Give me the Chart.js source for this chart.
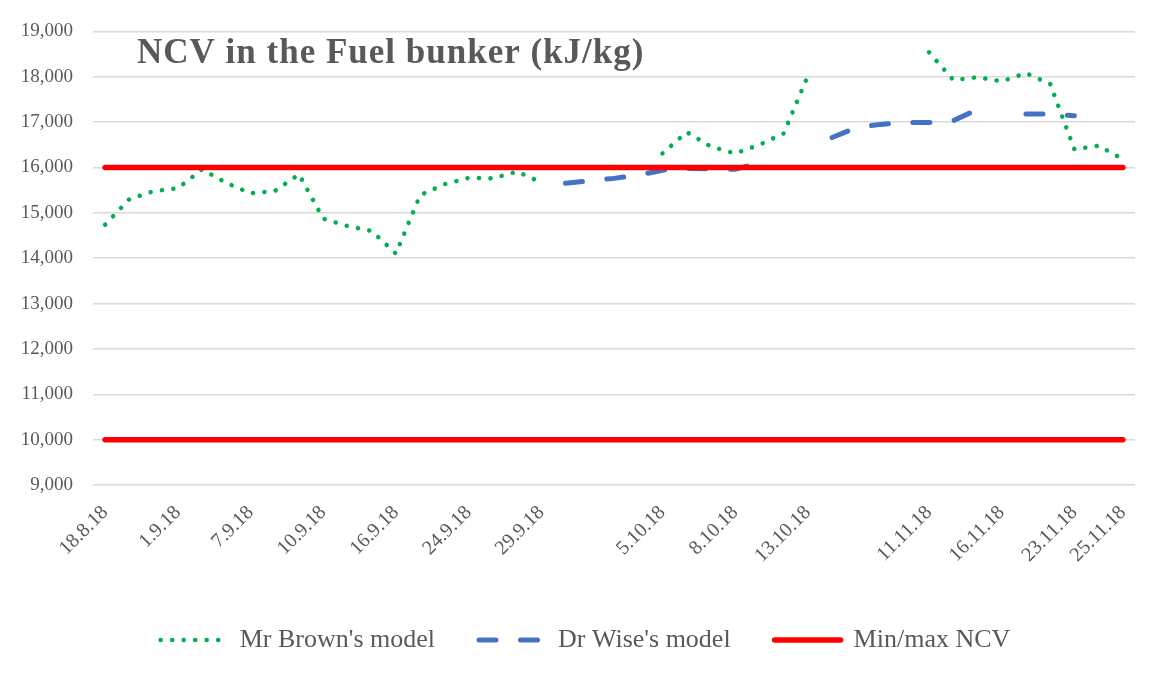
<!DOCTYPE html>
<html>
<head>
<meta charset="utf-8">
<title>NCV in the Fuel bunker</title>
<script src="https://cdn.jsdelivr.net/npm/chart.js@4"></script>
<style>
  html, body { margin: 0; padding: 0; background: #fff; }
  #wrap { position: relative; width: 1153px; height: 674px; }
</style>
</head>
<body>
<div id="wrap"><canvas id="ncvChart" width="1153" height="674"></canvas></div>
<script>
// ─── NCV chart: Mr Brown vs Dr Wise, with min/max limits ───────────────────
// One slot per measurement; only some slots carry a printed date.
const xLabels = [
  '18.8.18','','','1.9.18','','','7.9.18','','','10.9.18','','','16.9.18','','',
  '24.9.18','','','29.9.18','','','','','5.10.18','','','8.10.18','','','13.10.18',
  '','','','','11.11.18','','','16.11.18','','','23.11.18','','25.11.18'
];

// Mr Brown's model (kJ/kg), gaps where there is no reading
const brownNcv = [
  14740,15300,15480,15540,15960,15660,15430,15480,15850,14870,14710,14600,14100,
  15390,15630,15770,15760,15910,15670,null,null,null,null,16310,16780,16460,16310,
  16500,16750,18020,null,null,null,null,18540,17930,17990,17900,18080,17840,16400,
  16480,16180
];

// Dr Wise's model (kJ/kg)
const wiseNcv = [
  null,null,null,null,null,null,null,null,null,null,null,null,null,null,null,null,
  null,null,null,15650,15710,15760,15830,15940,15980,15970,15960,16100,null,null,
  16660,16880,16950,16990,16990,17030,17280,null,17180,17180,17140,null,null
];

// Min / max NCV limits
const ncvLimits = [16000, 10000];

const TITLE = 'NCV in the Fuel bunker (kJ/kg)';
const GREY = '#595959';
const SERIF = '"Liberation Serif", "DejaVu Serif", serif';

// title sits inside the plot area, top-left, like the original
const insideTitle = {
  id: 'insideTitle',
  afterDraw(chart) {
    const { ctx, chartArea } = chart;
    ctx.save();
    ctx.font = 'bold 35px ' + SERIF;
    ctx.letterSpacing = '1px';
    ctx.fillStyle = GREY;
    ctx.textBaseline = 'alphabetic';
    ctx.fillText(TITLE, chartArea.left + 44, chartArea.top + 32);
    ctx.restore();
  }
};

const limitSets = ncvLimits.map((v, k) => ({
  label: 'Min/max NCV',
  data: xLabels.map(() => v),
  borderColor: '#FF0000',
  backgroundColor: '#FF0000',
  borderWidth: 5.5,
  borderCapStyle: 'round',
  pointRadius: 0,
  order: 1,
  inLegend: k === 0
}));

new Chart(document.getElementById('ncvChart'), {
  type: 'line',
  data: {
    labels: xLabels,
    datasets: [
      {
        label: "Mr Brown's model",
        data: brownNcv,
        borderColor: '#00B050',
        backgroundColor: '#00B050',
        borderWidth: 4.5,
        borderDash: [0.1, 11.4],
        borderCapStyle: 'round',
        pointRadius: 0,
        spanGaps: false,
        tension: 0,
        order: 3,
        inLegend: true
      },
      {
        label: "Dr Wise's model",
        data: wiseNcv,
        borderColor: '#4472C4',
        backgroundColor: '#4472C4',
        borderWidth: 5,
        borderDash: [17, 24.5],
        borderCapStyle: 'round',
        pointRadius: 0,
        spanGaps: false,
        tension: 0,
        order: 2,
        inLegend: true
      },
      ...limitSets
    ]
  },
  options: {
    responsive: false,
    animation: false,
    devicePixelRatio: 1,
    layout: { padding: { top: 28, right: 0, left: 18, bottom: 11 } },
    plugins: {
      tooltip: { enabled: false },
      legend: {
        position: 'bottom',
        labels: {
          usePointStyle: true,
          pointStyleWidth: 66,
          padding: 44,
          color: GREY,
          font: { family: SERIF, size: 26 },
          sort: (a, b) => a.datasetIndex - b.datasetIndex,
          generateLabels: chart => chart.data.datasets
            .map((ds, i) => ({
              text: ds.label,
              datasetIndex: i,
              fillStyle: ds.borderColor,
              strokeStyle: ds.borderColor,
              fontColor: GREY,
              lineWidth: ds.borderWidth,
              lineDash: ds.borderDash || [],
              lineCap: ds.borderCapStyle,
              pointStyle: 'line',
              hidden: false,
              keep: ds.inLegend
            }))
            .filter(item => item.keep)
        }
      }
    },
    scales: {
      x: {
        offset: true,
        grid: { display: false, drawTicks: false },
        border: { display: false },
        ticks: {
          autoSkip: false, minRotation: 45, maxRotation: 45,
          color: GREY, font: { family: SERIF, size: 20 }, padding: 16
        },
        afterFit: s => { s.height = 98; s.paddingLeft = 0; s.paddingRight = 0; }
      },
      y: {
        min: 9000, max: 19000,
        grid: { color: '#D9D9D9', lineWidth: 1.5, drawTicks: false },
        border: { display: false },
        ticks: {
          stepSize: 1000, padding: 20, color: GREY,
          font: { family: SERIF, size: 19 },
          callback: v => v.toLocaleString('en-US')
        },
        afterFit: s => { s.width = 75; }
      },
      // empty strip on the right so the plot stops short of the edge
      yRight: {
        type: 'linear',
        position: 'right',
        grid: { display: false, drawTicks: false },
        border: { display: false },
        ticks: { display: false },
        afterFit: s => { s.width = 18; }
      }
    }
  },
  plugins: [insideTitle]
});
</script>
</body>
</html>
